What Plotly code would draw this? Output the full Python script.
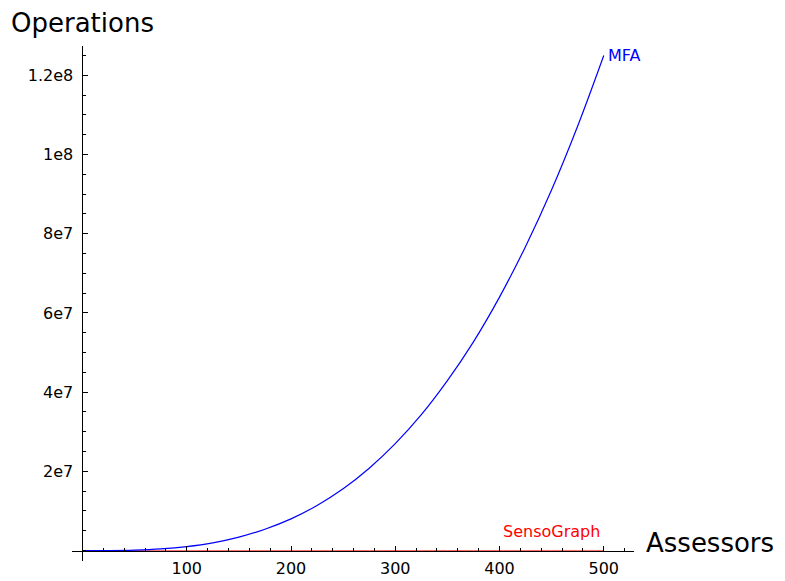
import plotly.graph_objects as go

# Data
assessors = [0, 25, 50, 75, 100, 125, 150, 175, 200, 225, 250, 275, 300,
             325, 350, 375, 400, 425, 450, 475, 500]
mfa_ops = [0, 1.6e4, 1.25e5, 4.2e5, 1.0e6, 1.95e6, 3.4e6, 5.4e6, 8.0e6,
           1.14e7, 1.56e7, 2.08e7, 2.7e7, 3.43e7, 4.29e7, 5.27e7, 6.4e7,
           7.68e7, 9.11e7, 1.072e8, 1.25e8]
senso_ops = [0, 100, 400, 900, 1600, 2500, 3600, 4900, 6400, 8100,
             10000, 12100, 14400, 16900, 19600, 22500, 25600, 28900,
             32400, 36100, 40000]

x_tickvals = [100, 200, 300, 400, 500]
x_ticktext = ["100", "200", "300", "400", "500"]
y_tickvals = [2e7, 4e7, 6e7, 8e7, 1e8, 1.2e8]
y_ticktext = ["2e7", "4e7", "6e7", "8e7", "1e8", "1.2e8"]

x_range = [-10.07, 529.0]
y_range = [-2.63e6, 127.4e6]

xpos = (0 - y_range[0]) / (y_range[1] - y_range[0])
ypos = (0 - x_range[0]) / (x_range[1] - x_range[0])

font = "DejaVu Sans, sans-serif"

fig = go.Figure()
fig.add_trace(go.Scatter(x=assessors, y=senso_ops, mode="lines",
                         line=dict(color="rgba(255,0,0,0.6)", width=1, shape="spline"),
                         hoverinfo="skip", showlegend=False))
fig.add_trace(go.Scatter(x=assessors, y=mfa_ops, mode="lines",
                         line=dict(color="#0000ff", width=1.2, shape="spline"),
                         hoverinfo="skip", showlegend=False))

fig.add_annotation(x=assessors[-1], y=mfa_ops[-1], text="MFA", showarrow=False,
                   xanchor="left", yanchor="middle", xshift=2,
                   font=dict(family=font, size=16, color="#0000ff"))
fig.add_annotation(x=assessors[-1], y=4.9e6, text="SensoGraph", showarrow=False,
                   xanchor="right", yanchor="middle", xshift=-2,
                   font=dict(family=font, size=16, color="#ff0000"))

fig.add_annotation(xref="paper", yref="paper", x=1.0, y=xpos,
                   text="Assessors", showarrow=False, xanchor="left",
                   yanchor="middle", xshift=10, yshift=8,
                   font=dict(family=font, size=26, color="black"))
fig.add_annotation(xref="paper", yref="paper", x=ypos, y=1.0,
                   text="Operations", showarrow=False, xanchor="center",
                   yanchor="bottom", xshift=0, yshift=6,
                   font=dict(family=font, size=26, color="black"))

tickfont = dict(family=font, size=16, color="black")

fig.update_layout(
    width=785, height=581,
    margin=dict(l=72, r=151, t=46, b=20, autoexpand=False),
    plot_bgcolor="white", paper_bgcolor="white",
    font=dict(family=font, size=14, color="black"),
    xaxis=dict(range=x_range, anchor="free", position=xpos,
               showgrid=False, zeroline=False, showline=True,
               linecolor="black", linewidth=1, automargin=False,
               tickmode="array", tickvals=x_tickvals, ticktext=x_ticktext,
               tickfont=tickfont,
               ticks="inside", ticklen=5, tickwidth=1, tickcolor="black",
               ticklabelstandoff=3,
               minor=dict(ticks="inside", ticklen=3, tickwidth=1,
                          tickcolor="black", tick0=0, dtick=20, showgrid=False)),
    yaxis=dict(range=y_range, anchor="free", position=ypos,
               showgrid=False, zeroline=False, showline=True,
               linecolor="black", linewidth=1, automargin=False,
               tickmode="array", tickvals=y_tickvals, ticktext=y_ticktext,
               tickfont=tickfont,
               ticks="inside", ticklen=5, tickwidth=1, tickcolor="black",
               ticklabelstandoff=6,
               minor=dict(ticks="inside", ticklen=3, tickwidth=1,
                          tickcolor="black", tick0=0, dtick=5e6, showgrid=False)),
)

fig.write_html("out.html", config={"displayModeBar": False},
               post_script="document.body.style.margin='0px';")
